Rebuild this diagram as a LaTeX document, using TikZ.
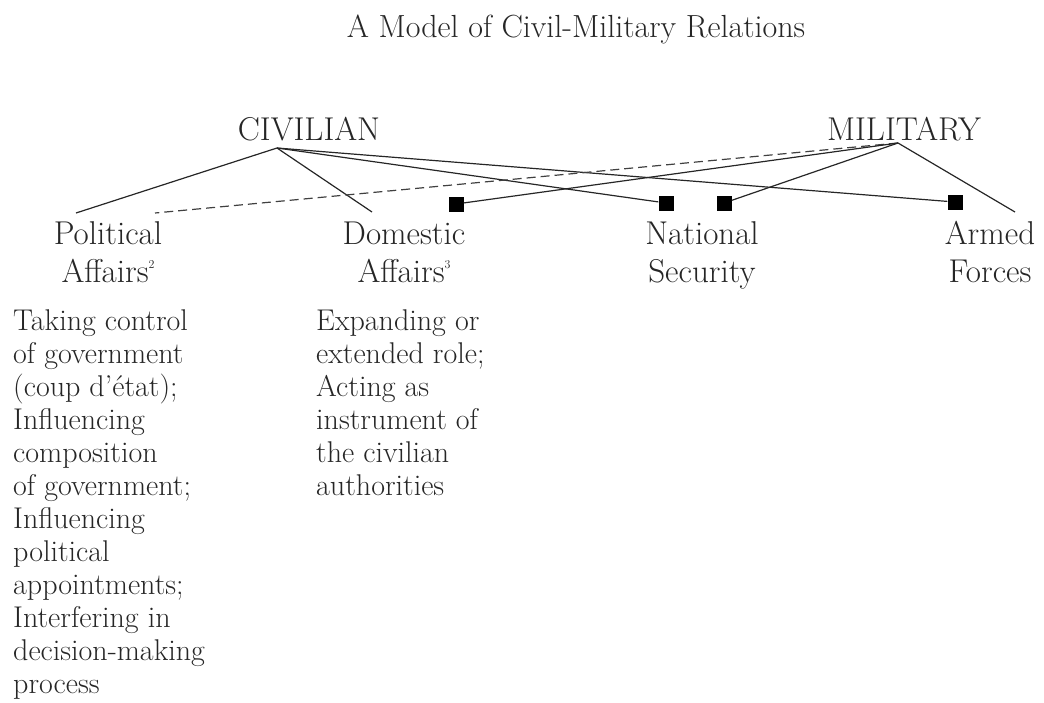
\documentclass[tikz,border=0pt]{standalone}
\newcommand{\fnmk}[1]{\raisebox{14pt}{\fontsize{12}{12}\selectfont #1}}
\begin{document}
\begin{tikzpicture}[x=1pt,y=-1pt,
  lbl/.style={inner sep=0pt,font=\fontsize{33}{38}\selectfont,align=center,text=black!85},
  ttl/.style={inner sep=0pt,font=\fontsize{32}{38}\selectfont,text=black!85},
  body/.style={inner sep=0pt,font=\fontsize{30}{33}\selectfont,align=left,text=black!85},
  sq/.style={fill=black,minimum size=15pt,inner sep=0pt,draw=none},
  ln/.style={line width=1.2pt,black!85},
  dsh/.style={line width=1.2pt,black!75,dash pattern=on 9pt off 5pt}]
\useasboundingbox (0,0) rectangle (1044,702);
\node[ttl,anchor=base] (title) at (576,37) {A Model of Civil-Military Relations};
\node[lbl,anchor=base] (civ) at (309,140) {CIVILIAN};
\node[lbl,anchor=base] (mil) at (904,140) {MILITARY};
\node[lbl,anchor=base] (pol) at (108,282) {Political\\Affairs\fnmk{2}};
\node[lbl,anchor=base] (dom) at (404,282) {Domestic\\Affairs\fnmk{3}};
\node[lbl,anchor=base] (nat) at (702,282) {National\\Security};
\node[lbl,anchor=base] (arm) at (990,282) {Armed\\Forces};
\node[body,anchor=base west] (poltext) at (13,693) {Taking control\\of government\\(coup d'\'etat);\\Influencing\\composition\\of government;\\Influencing\\political\\appointments;\\Interfering in\\decision-making\\process};
\node[body,anchor=base west] (domtext) at (316,495) {Expanding or\\extended role;\\Acting as\\instrument of\\the civilian\\authorities};
\coordinate (civa) at (277,148);
\coordinate (mila) at (898,143);
\coordinate (polA) at (76,213);
\coordinate (polB) at (155,213);
\coordinate (domA) at (372,212);
\coordinate (armA) at (1015,212);
\node[sq] (s1) at (456,204) {};
\node[sq] (s2) at (666,203) {};
\node[sq] (s3) at (724,203) {};
\node[sq] (s4) at (955,202) {};
\draw[ln] (civa) -- (polA);
\draw[ln] (civa) -- (domA);
\draw[ln] (civa) -- (s2);
\draw[ln] (civa) -- (s4);
\draw[dsh] (mila) -- (polB);
\draw[ln] (mila) -- (s1);
\draw[ln] (mila) -- (s3);
\draw[ln] (mila) -- (armA);
\end{tikzpicture}
\end{document}
